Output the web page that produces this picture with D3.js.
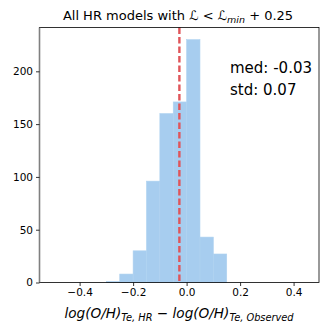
<!DOCTYPE html>
<html><head><meta charset="utf-8">
<script src="https://cdn.jsdelivr.net/npm/d3@7"></script>
<style>body{margin:0;background:#fff}svg{display:block}</style>
</head><body>
<script>
const binEdges = [-0.30,-0.25,-0.20,-0.15,-0.10,-0.05,0.00,0.05,0.10,0.15];
const counts = [1,8,30,96,160,171,230,43,27];
const xTicks = [-0.4,-0.2,0.0,0.2,0.4];
const yTicks = [0,50,100,150,200];
const median = -0.027;
const annoLines = ["med: -0.03","std: 0.07"];

const W=332,H=332;
const svg=d3.select("body").append("svg").attr("width",W).attr("height",H);
const x=d3.scaleLinear().domain([-0.55,0.495]).range([39.5,319]);
const y=d3.scaleLinear().domain([0,241.5]).range([282.5,27.5]);
const font="DejaVu Sans";

const bins=counts.map((c,i)=>({x0:binEdges[i],x1:binEdges[i+1],c}));
svg.append("g").selectAll("rect").data(bins).join("rect")
  .attr("x",d=>x(d.x0)).attr("width",d=>x(d.x1)-x(d.x0))
  .attr("y",d=>y(d.c)).attr("height",d=>y(0)-y(d.c))
  .attr("fill","#a7cdef").attr("stroke","#afd2f0").attr("stroke-width",0.6);

svg.append("line").attr("x1",x(median)).attr("x2",x(median))
  .attr("y1",y(241.5)).attr("y2",y(0))
  .attr("stroke","#e0555a").attr("stroke-width",2.4).attr("stroke-dasharray","6.5,3");

// spines
svg.append("rect").attr("x",39.5).attr("y",27.5).attr("width",319-39.5).attr("height",282.5-27.5)
  .attr("fill","none").attr("stroke","#000").attr("stroke-width",0.8);
svg.append("line").attr("x1",39.5).attr("x2",39.5).attr("y1",27.5).attr("y2",282.5)
  .attr("stroke","#808080").attr("stroke-width",1.6);

const xa=svg.append("g").attr("transform","translate(0,282.5)")
  .call(d3.axisBottom(x).tickValues(xTicks).tickSize(3.5).tickPadding(3).tickFormat(d=>d3.format(".1f")(d).replace("-","\u2212")));
const ya=svg.append("g").attr("transform","translate(39.5,0)")
  .call(d3.axisLeft(y).tickValues(yTicks).tickSize(3.5).tickPadding(3).tickFormat(d3.format("d")));
[xa,ya].forEach(a=>{a.select(".domain").remove();
  a.selectAll("text").attr("font-family",font).attr("font-size",10.5).attr("fill","#000");
  a.selectAll("line").attr("stroke","#000").attr("stroke-width",0.8);});

// title
const t=svg.append("text").attr("x",178).attr("y",20).attr("text-anchor","middle")
  .attr("font-family",font).attr("font-size",13).attr("fill","#000");
t.append("tspan").text("All HR models with ");
t.append("tspan").attr("font-style","italic").text("\u2112");
t.append("tspan").text(" < ");
t.append("tspan").attr("font-style","italic").text("\u2112");
t.append("tspan").attr("font-style","italic").attr("font-size",9.5).attr("dy",2.5).text("min");
t.append("tspan").attr("dy",-2.5).text(" + 0.25");

// annotations
annoLines.forEach((s,i)=>svg.append("text").attr("x",230).attr("y",73+i*22)
  .attr("font-family",font).attr("font-size",15).attr("fill","#000").text(s));

// x label
const xl=svg.append("text").attr("x",179).attr("y",318).attr("text-anchor","middle")
  .attr("font-family",font).attr("font-size",13.6).attr("font-style","italic").attr("fill","#000");
xl.append("tspan").text("log(O/H)");
xl.append("tspan").attr("font-size",9.8).attr("dy",3).text("Te, HR");
xl.append("tspan").attr("dy",-3).attr("font-style","normal").text(" \u2212 ");
xl.append("tspan").text("log(O/H)");
xl.append("tspan").attr("font-size",9.8).attr("dy",3).text("Te, Observed");
</script>
</body></html>
